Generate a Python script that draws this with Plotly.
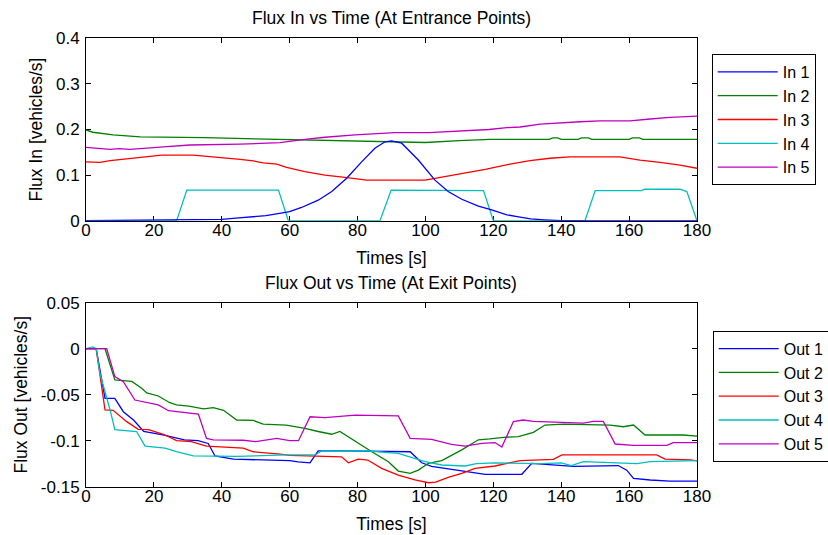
import plotly.graph_objects as go

# ---------------- data ----------------
x_ticks = [0, 20, 40, 60, 80, 100, 120, 140, 160, 180]
x_tick_labels = ["0", "20", "40", "60", "80", "100", "120", "140", "160", "180"]
y_in_ticks = [0, 0.1, 0.2, 0.3, 0.4]
y_in_tick_labels = ["0", "0.1", "0.2", "0.3", "0.4"]
y_out_ticks = [-0.15, -0.1, -0.05, 0, 0.05]
y_out_tick_labels = ["-0.15", "-0.1", "-0.05", "0", "0.05"]

in_names = ["In 1", "In 2", "In 3", "In 4", "In 5"]
out_names = ["Out 1", "Out 2", "Out 3", "Out 4", "Out 5"]
colors = ["#0000FF", "#008000", "#FF0000", "#00BFBF", "#BF00BF"]

in1_t = [0, 40, 45, 49, 53, 57, 60, 63.5, 68.4, 72.4, 76.8, 81.2, 85.1, 88.1, 90, 93, 97.9, 102.8, 106.7, 110.7, 115.6, 119.5, 124, 127, 131, 135, 140, 180]
in1_v = [0, 0.003, 0.006, 0.009, 0.011, 0.016, 0.02, 0.029, 0.045, 0.064, 0.093, 0.129, 0.159, 0.173, 0.175, 0.17, 0.133, 0.089, 0.064, 0.047, 0.032, 0.0235, 0.013, 0.009, 0.004, 0.002, 0, 0]

in2_t = [0, 2, 8, 16, 35, 56, 79, 88, 100, 110, 119, 136.5, 137.5, 139, 140, 145, 146, 148, 149, 160, 161, 163, 164, 180]
in2_v = [0.199, 0.194, 0.188, 0.184, 0.182, 0.1785, 0.1755, 0.173, 0.1715, 0.1755, 0.1785, 0.1785, 0.1815, 0.1815, 0.1785, 0.1785, 0.1815, 0.1815, 0.1785, 0.1785, 0.1815, 0.1815, 0.1785, 0.1785]

in3_t = [0, 4.1, 7.1, 9.8, 13, 16.4, 22.3, 31.6, 40.5, 45.4, 49.3, 52.2, 56.2, 59.1, 64.5, 70.4, 76.3, 82.7, 99.9, 105.8, 111.7, 117.6, 124.9, 130.8, 136.7, 142.6, 157.3, 163.2, 169.1, 175, 180]
in3_v = [0.129, 0.128, 0.1316, 0.134, 0.137, 0.14, 0.144, 0.144, 0.139, 0.1347, 0.131, 0.127, 0.124, 0.117, 0.1075, 0.1, 0.095, 0.089, 0.089, 0.0965, 0.104, 0.1127, 0.124, 0.1316, 0.137, 0.14, 0.14, 0.133, 0.128, 0.122, 0.115]

in4_t = [0, 26.7, 29.7, 56.7, 59.6, 86.6, 89.9, 103.3, 103.8, 117.1, 120, 147, 150, 163.7, 164.5, 168, 169, 175, 177, 180]
in4_v = [0, 0, 0.067, 0.067, 0, 0, 0.067, 0.067, 0.066, 0.066, 0, 0, 0.066, 0.066, 0.069, 0.069, 0.068, 0.069, 0.064, 0]

in5_t = [0, 7.1, 9.8, 13, 22.8, 30.6, 45.4, 57.2, 64.5, 70.4, 79.3, 91, 101, 112.6, 118.7, 124, 127.9, 133.8, 139.7, 145.6, 151.4, 160.3, 166.2, 172, 180]
in5_v = [0.161, 0.1566, 0.158, 0.1566, 0.162, 0.166, 0.168, 0.171, 0.1785, 0.183, 0.188, 0.193, 0.193, 0.197, 0.2, 0.204, 0.2055, 0.212, 0.215, 0.217, 0.219, 0.219, 0.223, 0.2265, 0.2295]

out1_t = [0, 3, 5.6, 8.5, 11, 14, 17, 23, 29, 33, 36, 38, 43.4, 60, 62.5, 66, 68.4, 76, 95.5, 98.9, 101.8, 109.7, 117.6, 128.4, 131.3, 143.6, 156.8, 159.3, 161.3, 166.2, 172, 180]
out1_v = [0, 0, -0.054, -0.054, -0.0685, -0.0775, -0.09, -0.094, -0.099, -0.1, -0.103, -0.1166, -0.12, -0.1217, -0.123, -0.124, -0.111, -0.111, -0.112, -0.124, -0.128, -0.132, -0.1365, -0.1365, -0.1246, -0.128, -0.127, -0.132, -0.141, -0.1427, -0.144, -0.144]

out2_t = [0, 5.6, 8.5, 13.5, 16.4, 17.9, 21.3, 24.7, 26.7, 30.3, 34.6, 37.5, 40.5, 44.4, 49.3, 52.2, 59, 64.5, 68.4, 72.4, 74.8, 79.3, 84.2, 89.1, 92, 95.5, 97.9, 100.9, 104.8, 110.7, 115.6, 119, 123, 127.4, 131.8, 135.2, 140.6, 154.4, 158.3, 161.3, 164.7, 176, 180]
out2_v = [0, 0, -0.034, -0.0355, -0.043, -0.048, -0.0514, -0.0587, -0.061, -0.0625, -0.0655, -0.064, -0.067, -0.0775, -0.078, -0.082, -0.083, -0.0866, -0.09, -0.093, -0.09, -0.101, -0.112, -0.1228, -0.133, -0.1355, -0.132, -0.1246, -0.1217, -0.11, -0.099, -0.098, -0.0963, -0.0955, -0.091, -0.083, -0.082, -0.083, -0.0848, -0.083, -0.0938, -0.0938, -0.095]

out3_t = [0, 3, 5.6, 8, 12, 15.4, 18.4, 22.8, 26.7, 31, 35.5, 40.5, 46.3, 49.3, 53.3, 57.2, 60, 67.5, 75.3, 77.3, 80.2, 83, 87.1, 92, 96.9, 100.9, 103, 106.7, 110.7, 114.6, 120.5, 124, 127.9, 137.7, 140.2, 168.1, 170.6, 178, 180]
out3_v = [0, 0, -0.0666, -0.067, -0.0793, -0.0876, -0.088, -0.093, -0.1, -0.101, -0.1058, -0.1066, -0.108, -0.112, -0.113, -0.1145, -0.116, -0.117, -0.1175, -0.124, -0.12, -0.121, -0.13, -0.1373, -0.1427, -0.1457, -0.145, -0.1398, -0.1355, -0.13, -0.1275, -0.1246, -0.1217, -0.1203, -0.1155, -0.1155, -0.12, -0.1208, -0.122]

out4_t = [0, 2, 3, 4.1, 7.1, 8.5, 14.9, 17.4, 23.3, 26.7, 31.6, 44.4, 59, 67.5, 69.4, 83.2, 92, 96, 99.9, 104.8, 111.7, 115, 120.5, 133.8, 140, 143, 145, 146.5, 162.3, 166.2, 180]
out4_v = [0, 0.002, 0, -0.027, -0.0666, -0.088, -0.09, -0.1058, -0.108, -0.112, -0.1166, -0.117, -0.1155, -0.1155, -0.1112, -0.1112, -0.1137, -0.118, -0.1228, -0.1264, -0.1275, -0.125, -0.124, -0.125, -0.124, -0.127, -0.125, -0.1228, -0.125, -0.1228, -0.1217]

out5_t = [0, 6.1, 8.5, 11, 14.4, 17.9, 21.3, 24.3, 27.7, 33.1, 35.5, 37.5, 46.3, 50, 56.2, 60, 62.6, 66, 70.4, 79.3, 92, 95.5, 101.8, 107.7, 111.7, 116.6, 120.5, 122.5, 125.9, 128.8, 131.8, 146.5, 149.5, 152.4, 155.9, 161.3, 171.1, 173, 180]
out5_v = [0, 0, -0.0303, -0.0359, -0.0558, -0.0587, -0.061, -0.0674, -0.0685, -0.071, -0.0975, -0.099, -0.0995, -0.101, -0.0975, -0.1, -0.1, -0.074, -0.075, -0.0722, -0.073, -0.0975, -0.0985, -0.104, -0.1058, -0.103, -0.102, -0.107, -0.0793, -0.0775, -0.079, -0.081, -0.079, -0.079, -0.1036, -0.105, -0.105, -0.102, -0.102]

in_series = [(in1_t, in1_v), (in2_t, in2_v), (in3_t, in3_v), (in4_t, in4_v), (in5_t, in5_v)]
out_series = [(out1_t, out1_v), (out2_t, out2_v), (out3_t, out3_v), (out4_t, out4_v), (out5_t, out5_v)]

# ---------------- figure ----------------
FONT = "Liberation Sans, Arial, Helvetica, sans-serif"
fig = go.Figure()

# draw "In 1" last so it sits on top along the zero line; legend order kept by legendrank
in_draw_order = [1, 2, 3, 4, 0]
for i in in_draw_order:
    t, v = in_series[i]
    fig.add_trace(go.Scatter(x=t, y=v, mode="lines", name=in_names[i],
                             line=dict(color=colors[i], width=1.3),
                             legendrank=i + 1,
                             xaxis="x", yaxis="y", legend="legend"))
for i, (name, (t, v), c) in enumerate(zip(out_names, out_series, colors)):
    fig.add_trace(go.Scatter(x=t, y=v, mode="lines", name=name,
                             line=dict(color=c, width=1.3),
                             legendrank=i + 1,
                             xaxis="x2", yaxis="y2", legend="legend2"))

W, H = 828, 535
px_left, px_right = 86, 697
top_y0, top_y1 = 38.3, 220.7
bot_y0, bot_y1 = 302.7, 486.7

axis_common = dict(showline=True, linecolor="#000000", linewidth=1, mirror="ticks",
                   ticks="inside", ticklen=5, tickcolor="#000000", showgrid=False,
                   zeroline=False, tickfont=dict(family=FONT, size=17, color="#000000"),
                   layer="below traces")
x_extra = dict(ticklabelstandoff=-6)
y_extra = dict(ticklabelstandoff=2)
title_font = dict(family=FONT, size=17.5, color="#000000")

fig.update_layout(
    width=W, height=H,
    margin=dict(l=0, r=0, t=0, b=0, autoexpand=False),
    paper_bgcolor="white", plot_bgcolor="white",
    font=dict(family=FONT, size=17, color="#000000"),
    showlegend=True,
    xaxis=dict(domain=[px_left / W, px_right / W], range=[0, 180], anchor="y",
               tickvals=x_ticks, ticktext=x_tick_labels,
               title=dict(text="Times [s]", standoff=12, font=title_font), **axis_common, **x_extra),
    yaxis=dict(domain=[1 - top_y1 / H, 1 - top_y0 / H], range=[0, 0.4], anchor="x",
               tickvals=y_in_ticks, ticktext=y_in_tick_labels,
               title=dict(text="Flux In [vehicles/s]", standoff=8, font=title_font), **axis_common, **y_extra),
    xaxis2=dict(domain=[px_left / W, px_right / W], range=[0, 180], anchor="y2",
                tickvals=x_ticks, ticktext=x_tick_labels,
                title=dict(text="Times [s]", standoff=12, font=title_font), **axis_common, **x_extra),
    yaxis2=dict(domain=[1 - bot_y1 / H, 1 - bot_y0 / H], range=[-0.15, 0.05], anchor="x2",
                tickvals=y_out_ticks, ticktext=y_out_tick_labels,
                title=dict(text="Flux Out [vehicles/s]", standoff=8, font=title_font), **axis_common, **y_extra),
    legend=dict(x=711.7 / W, y=1 - 54 / H, xanchor="left", yanchor="top",
                bgcolor="white", bordercolor="#000000", borderwidth=1,
                font=dict(family=FONT, size=16, color="#000000"), itemwidth=60,
                tracegroupgap=0, traceorder="normal"),
    legend2=dict(x=712.7 / W, y=1 - 330.7 / H, xanchor="left", yanchor="top",
                 bgcolor="white", bordercolor="#000000", borderwidth=1,
                 font=dict(family=FONT, size=16, color="#000000"), itemwidth=60,
                 tracegroupgap=0, traceorder="normal"),
    annotations=[
        dict(text="Flux In vs Time (At Entrance Points)", x=391 / W, y=1 - 18.3 / H,
             xref="paper", yref="paper", xanchor="center", yanchor="middle",
             showarrow=False, font=title_font),
        dict(text="Flux Out vs Time (At Exit Points)", x=391 / W, y=1 - 283.3 / H,
             xref="paper", yref="paper", xanchor="center", yanchor="middle",
             showarrow=False, font=title_font),
    ],
)

fig.write_html("out.html", config={"displayModeBar": False},
               post_script="document.body.style.margin='0px';")
